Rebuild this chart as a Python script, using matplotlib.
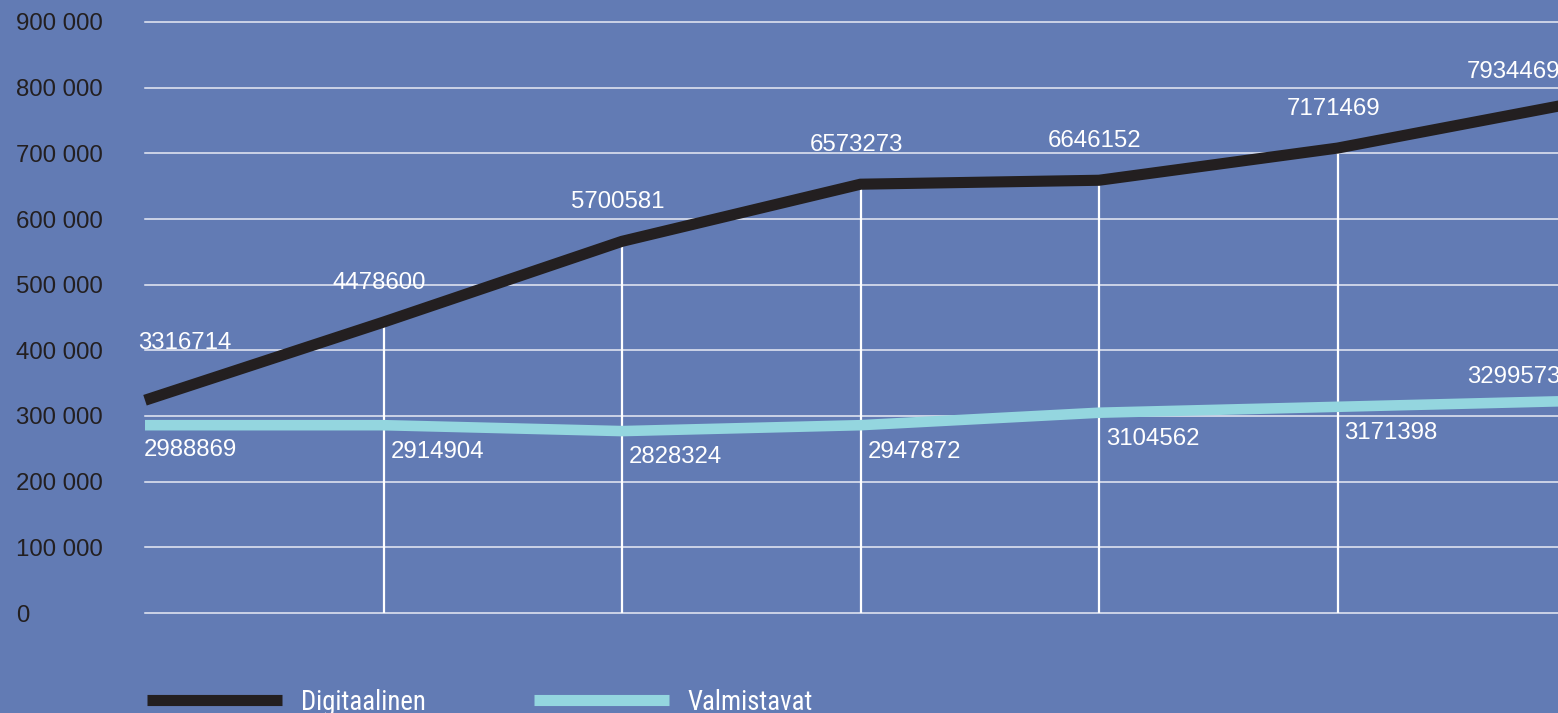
import matplotlib
matplotlib.use('Agg')
import matplotlib.pyplot as plt
from matplotlib.lines import Line2D

# Data (x categories are unlabelled, 7 steps)
steps = [0, 1, 2, 3, 4, 5, 6]
series_names = ['Digitaalinen', 'Valmistavat']
digitaalinen_labels = ['3316714', '4478600', '5700581', '6573273', '6646152', '7171469', '7934469']
valmistavat_labels = ['2988869', '2914904', '2828324', '2947872', '3104562', '3171398', '3299573']
# line heights as drawn on the y scale
digitaalinen = [324000, 443000, 566000, 653000, 659000, 708000, 777000]
valmistavat = [286000, 286000, 277000, 286000, 305000, 314000, 323000]
ytick_values = [0, 100000, 200000, 300000, 400000, 500000, 600000, 700000, 800000, 900000]
ytick_labels = ['0', '100 000', '200 000', '300 000', '400 000',
                '500 000', '600 000', '700 000', '800 000', '900 000']

# Colours
BG = '#627bb4'
BLACK = '#231f20'
CYAN = '#94d6df'

W, H = 1558, 713
fig = plt.figure(figsize=(W / 100, H / 100), dpi=100, facecolor=BG)
# axes runs past the right edge on purpose, last point is cut off like the original
ax = fig.add_axes([145 / W, 100 / H, (1576 - 145) / W, 591 / H])
ax.set_facecolor(BG)
ax.set_xlim(0, 6)
ax.set_ylim(0, 900000)

# Grid and axes styling
ax.set_yticks(ytick_values)
ax.set_yticklabels(ytick_labels, fontsize=17.3, family='Liberation Sans', color=BLACK)
for lbl in ax.get_yticklabels():
    lbl.set_ha('left')
ax.tick_params(axis='y', length=0, pad=93)
ax.set_xticks([])
ax.grid(axis='y', color='#e8ebf5', linewidth=1.1)
for gl in ax.get_ygridlines():
    gl.set_clip_on(False)
ax.set_axisbelow(True)
for s in ax.spines.values():
    s.set_visible(False)

# White drop lines from the black series to the baseline
ax.vlines(steps[1:], 0, digitaalinen[1:], color='white', linewidth=1.6, zorder=2)

# Lines
ax.plot(steps, valmistavat, color=CYAN, linewidth=7.6, solid_capstyle='butt',
        solid_joinstyle='miter', clip_on=False, zorder=3)
ax.plot(steps, digitaalinen, color=BLACK, linewidth=8.0, solid_capstyle='butt',
        solid_joinstyle='miter', clip_on=False, zorder=4)

# Value labels (offsets in points, 1px = 0.72pt)
txt = dict(fontsize=17.3, family='Liberation Sans', color='white', va='center',
           textcoords='offset points', annotation_clip=False, zorder=5)
last = len(steps) - 1
for i, (x, y, s) in enumerate(zip(steps, digitaalinen, digitaalinen_labels)):
    if i == 0:
        ax.annotate(s, (x, y), xytext=(-5, 41), ha='left', **txt)
    elif i == last:
        ax.annotate(s, (x, y), xytext=(-11, 22), ha='right', **txt)
    else:
        ax.annotate(s, (x, y), xytext=(-3, 28), ha='center', **txt)

for i, (x, y, s) in enumerate(zip(steps, valmistavat, valmistavat_labels)):
    if i == 0:
        ax.annotate(s, (x, y), xytext=(-1, -18), ha='left', **txt)
    elif i == last:
        ax.annotate(s, (x, y), xytext=(-11, 17), ha='right', **txt)
    else:
        ax.annotate(s, (x, y), xytext=(5, -19), ha='left', **txt)

# Legend along the bottom edge (condensed face if one is installed)
handles = [Line2D([0], [0], color=BLACK, linewidth=8, solid_capstyle='butt'),
           Line2D([0], [0], color=CYAN, linewidth=8, solid_capstyle='butt')]
leg_font = {'family': ['Roboto Condensed', 'Liberation Sans Narrow', 'Liberation Sans'],
            'size': 19.3}
leg = fig.legend(handles, series_names, loc='center left',
                 bbox_to_anchor=(147 / W, (H - 702) / H), ncol=2, frameon=False,
                 borderaxespad=0, borderpad=0, handlelength=5.05, handletextpad=0.68,
                 columnspacing=4.05, prop=leg_font)
for t in leg.get_texts():
    t.set_color('white')

fig.savefig('out.png', dpi=100, facecolor=BG)
